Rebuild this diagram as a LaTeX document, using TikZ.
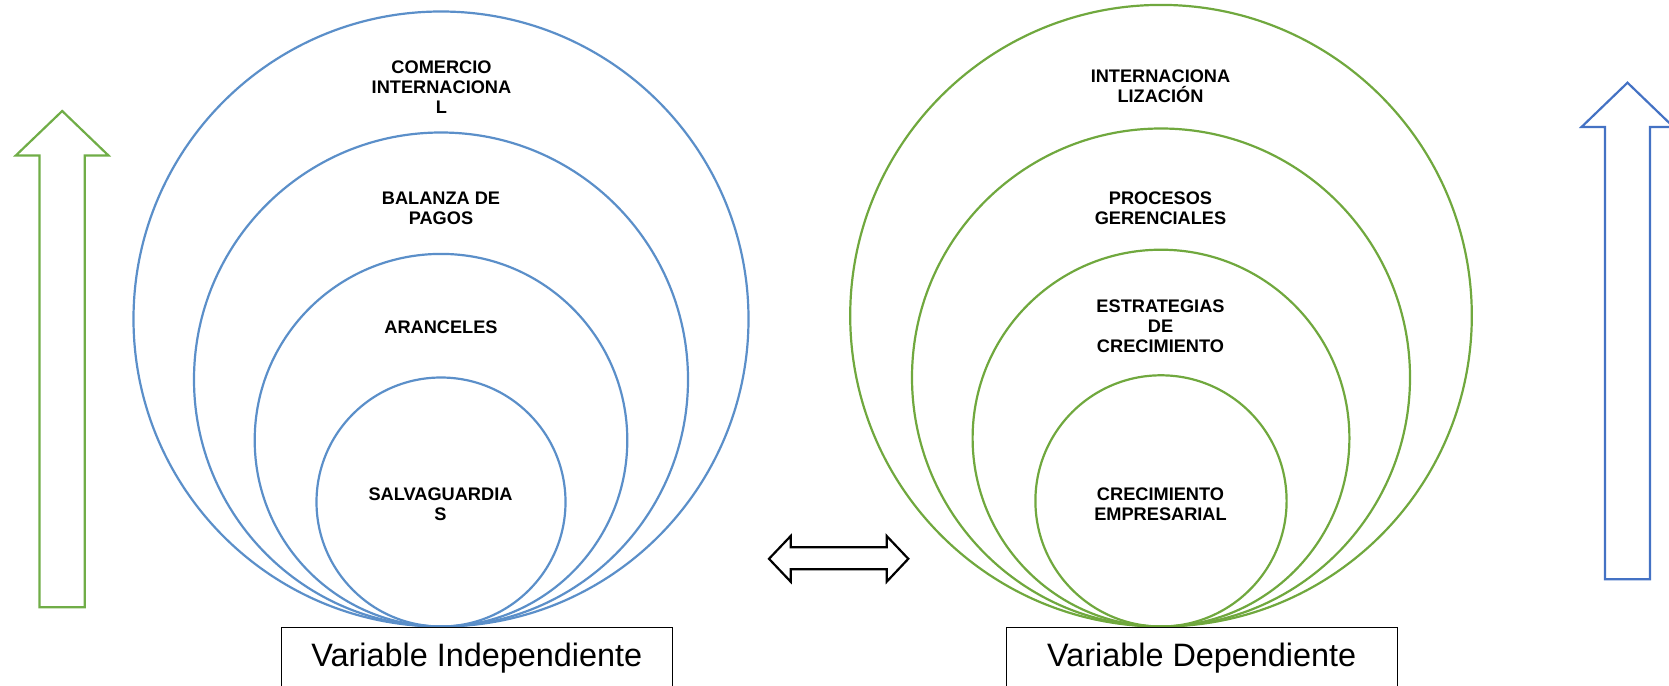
\documentclass[tikz,border=0pt]{standalone}
\usepackage{fontspec}
\setmainfont{Liberation Sans}
\definecolor{ringblue}{HTML}{5B8FC9}
\definecolor{ringgreen}{HTML}{70A83E}
\definecolor{arrowblue}{HTML}{4472C4}
\definecolor{arrowgreen}{HTML}{70AD47}
\begin{document}
\begin{tikzpicture}[x=0.5pt, y=-0.5pt,
    ringb/.style={draw=ringblue, line width=1.1pt},
    ringg/.style={draw=ringgreen, line width=1.1pt},
    lbl/.style={font=\fontsize{9.1}{10}\selectfont\bfseries, align=center, inner sep=0pt},
    varbox/.style={draw=black, line width=0.5pt},
    vartext/.style={font=\fontsize{16.2}{18}\selectfont, anchor=base, inner sep=0pt},
    blockarrow/.style={line width=1.1pt, line join=miter, fill=white}]
    \useasboundingbox (0,0) rectangle (1669,685);

    % Variable independiente
    \begin{scope}[shift={(441,626.5)}]
        \draw[ringb] (0,-307.5) circle (307.5);
        \draw[ringb] (0,-247) circle (247);
        \draw[ringb] (0,-186.3) circle (186.3);
        \draw[ringb] (0,-124.5) circle (124.5);
    \end{scope}
    \node[lbl] (comercio) at (441.5,86.8) {COMERCIO\\INTERNACIONA\\L};
    \node[lbl] (balanza) at (441,208) {BALANZA DE\\PAGOS};
    \node[lbl] (aranceles) at (441,326.8) {ARANCELES};
    \node[lbl] (salva) at (440.5,503.8) {SALVAGUARDIA\\S};
    \draw[varbox] (281.5,627.5) rectangle (672,700);
    \node[vartext] (indep) at (476.8,666.7) {Variable Independiente};

    % Variable dependiente
    \begin{scope}[shift={(1161,626.5)}]
        \draw[ringg] (0,-310.8) circle (310.8);
        \draw[ringg] (0,-249) circle (249);
        \draw[ringg] (0,-188.4) circle (188.4);
        \draw[ringg] (0,-125.6) circle (125.6);
    \end{scope}
    \node[lbl] (internac) at (1160.5,86.5) {INTERNACIONA\\LIZACIÓN};
    \node[lbl] (procesos) at (1160.5,208) {PROCESOS\\GERENCIALES};
    \node[lbl] (estrat) at (1160.5,326.7) {ESTRATEGIAS\\DE\\CRECIMIENTO};
    \node[lbl] (crecim) at (1160.5,504.5) {CRECIMIENTO\\EMPRESARIAL};
    \draw[varbox] (1006,627.5) rectangle (1397.5,700);
    \node[vartext] (dep) at (1201.7,666.7) {Variable Dependiente};

    % Flechas
    \draw[blockarrow, draw=arrowgreen] (62.2,111) -- (108.5,155.5) -- (84.7,155.5) -- (84.7,607.3)
        -- (39.5,607.3) -- (39.5,155.5) -- (15.8,155.5) -- cycle;
    \draw[blockarrow, draw=arrowblue] (1627.5,82.7) -- (1673.5,127) -- (1650,127) -- (1650,579.3)
        -- (1605,579.3) -- (1605,127) -- (1581.5,127) -- cycle;
    \draw[blockarrow, draw=black] (769,558.8) -- (790.7,536) -- (790.7,547.3) -- (886.7,547.3)
        -- (886.7,536) -- (908.3,558.8) -- (886.7,581.7) -- (886.7,569.3)
        -- (790.7,569.3) -- (790.7,581.7) -- cycle;
\end{tikzpicture}
\end{document}
